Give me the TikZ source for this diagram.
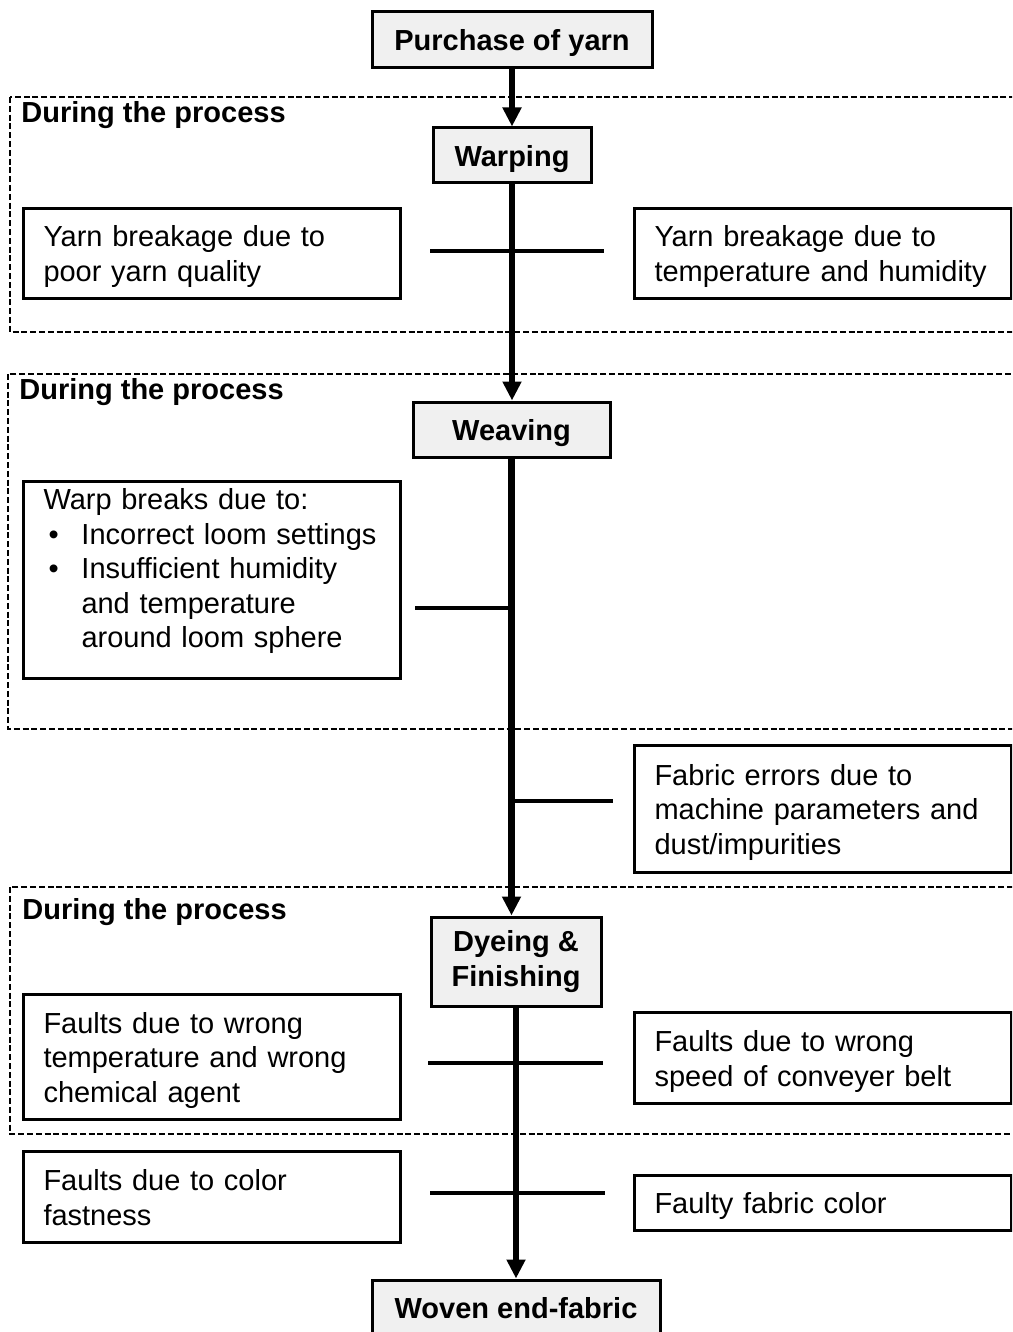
\documentclass[tikz,border=0pt]{standalone}
\usepackage{fontspec}
\setmainfont{Liberation Sans}
\usetikzlibrary{calc}
\usetikzlibrary{arrows.meta}

\newcommand{\diagfont}{\fontsize{14.5pt}{17.3pt}\selectfont}

\begin{document}
\begin{tikzpicture} [x=.5pt, y=-.5pt,
  lines/.style={execute at begin node={\rule{0pt}{14pt}}, execute at end node={\rule[-3.3pt]{0pt}{3.3pt}}},
  stage/.style={draw, line width=1.5pt, fill=gray!12, font=\diagfont\bfseries, inner sep=0pt, align=center, lines},
  fault/.style={draw, line width=1.5pt, anchor=north west, font=\diagfont, align=left, text width=168.5pt, inner xsep=10pt, inner ysep=2pt, lines},
  zonetitle/.style={font=\diagfont\bfseries, inner sep=0pt, anchor=base west},
  zone/.style={line width=1pt, dash pattern=on 3pt off 1.4pt},
  flow/.style={line width=3.3pt, -{Triangle[length=9.5pt, width=9pt]}},
  tick/.style={line width=2pt}]

\clip (0,0) rectangle (1012,1332);

\draw[zone] (10,97) rectangle (1030,332);
\draw[zone] (8,374) rectangle (1030,729);
\draw[zone] (10,887) rectangle (1030,1134);
\node[zonetitle] (during1) at (21,123) {During the process};
\node[zonetitle] (during2) at (19,399) {During the process};
\node[zonetitle] (during3) at (22,919) {During the process};

\node[stage, minimum width=140pt, minimum height=28pt] (purchase) at (512,40) {Purchase of yarn};
\node[stage, minimum width=79pt, minimum height=27.5pt] (warping) at (512,155.5) {Warping};
\node[stage, minimum width=98.5pt, minimum height=27.5pt] (weaving) at (511.5,429.5) {Weaving};
\node[stage, minimum width=85pt, minimum height=44.5pt] (dyeing) at (516,961.5) {Dyeing \&\\Finishing};
\node[stage, minimum width=144pt, minimum height=28pt] (woven) at (516,1308) {Woven end-fabric};

\node[fault, minimum height=45pt] (poorYarn) at (22,207) {Yarn breakage due to\\poor yarn quality};
\node[fault, minimum height=45pt] (climate) at (633,207) {Yarn breakage due to\\temperature and humidity};
\node[fault, minimum height=98.5pt, inner ysep=0pt] (warpBreaks) at (22,480) {Warp breaks due to:\\
  \hspace*{2.5pt}\makebox[16.5pt][l]{\textbullet}Incorrect loom settings\\
  \hspace*{2.5pt}\makebox[16.5pt][l]{\textbullet}Insufficient humidity\\
  \hspace*{19pt}and temperature\\
  \hspace*{19pt}around loom sphere\rule[-15.3pt]{0pt}{15.3pt}};
\node[fault, minimum height=63.5pt] (fabricErr) at (633,744) {Fabric errors due to\\machine parameters and\\dust/impurities};
\node[fault, minimum height=62.5pt] (tempChem) at (22,993) {Faults due to wrong\\temperature and wrong\\chemical agent};
\node[fault, minimum height=45.5pt] (conveyer) at (633,1011) {Faults due to wrong\\speed of conveyer belt};
\node[fault, minimum height=45.5pt] (fastness) at (22,1150) {Faults due to color\\fastness};
\node[fault, minimum height=27.5pt] (fabricColor) at (633,1174) {Faulty fabric color};

\draw[flow] (purchase) -- (warping);
\draw[flow] (warping) -- (warping.south |- weaving.north);
\draw[flow] (weaving.south) -- (weaving.south |- dyeing.north);
\draw[flow] (dyeing) -- (woven);

\foreach \y/\a/\b in {251/430/604, 608/415/512, 801/512/613, 1063/428/603, 1193/430/605}
 \draw[tick] (\a,\y)--(\b,\y);

\end{tikzpicture}
\end{document}
